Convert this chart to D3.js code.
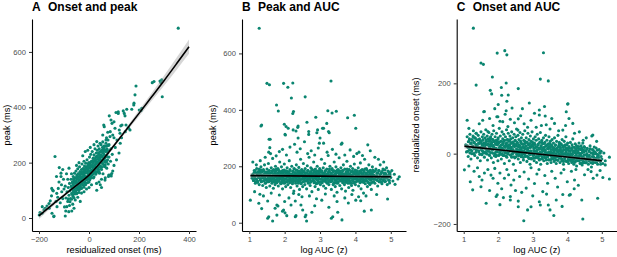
<!DOCTYPE html>
<html>
<head>
<meta charset="utf-8">
<script src="https://cdn.jsdelivr.net/npm/d3@7"></script>
<style>
  body { margin: 0; background: #fff; }
  svg { display: block; font-family: "Liberation Sans", Arial, sans-serif; }
</style>
</head>
<body>
<svg id="chart" width="617" height="257"></svg>
<script>
// ---- panel A: residualized onset (ms) vs peak (ms)
const onsetPeak = [
  [357,686],[188,477],[184,445],[293,438],[253,489],[260,493],[284,495],[291,499],[287,490],
  [180,415],[171,393],[201,390],[211,396],[208,388],[151,393],[141,378],[137,387],[108,381],
  [117,378],[117,384],[81,369],[144,369],[88,354],[100,348],[61,330],[127,333],[148,336],
  [179,408],[59,336],[92,342],[121,318],[132,336],[85,312],[112,282],[145,312],[159,324],[76,282],
  [104,324],[157,326],[164,318],[124,306],[84,294],[68,282],[44,270],[31,276],[95,300],
  [75,310],[55,300],[130,290],[100,290],[60,260],[80,265],[125,270],[105,255],[120,235],[110,210],
  [79,155],[89,152],[65,192],[31,100],[45,120],[64,137],[50,110],[100,190],[95,170],
  [-92,72],[-88,95],[-85,60],[-83,110],[-80,82],[-78,125],[-76,98],[-74,70],[-72,140],[-71,115],
  [-69,88],[-67,104],[-66,130],[-64,78],[-63,150],[-62,96],[-61,118],[-60,136],
  [-59,105],[-58,162],[-57,88],[-56,128],[-55,145],[-54,112],[-53,98],[-52,170],[-51,135],[-50,120],
  [-49,155],[-48,90],[-47,142],[-46,108],[-45,178],[-44,126],[-43,160],[-42,115],[-41,138],[-40,100],
  [-39,150],[-38,185],[-37,128],[-36,168],[-35,118],[-34,145],[-33,135],[-32,158],[-31,110],[-30,175],
  [-29,140],[-28,195],[-28,125],[-27,160],[-26,150],[-25,132],[-24,178],[-23,118],[-22,168],[-21,145],
  [-20,205],[-20,155],[-19,130],[-18,188],[-17,162],[-16,140],[-15,172],[-14,120],[-13,198],[-12,150],
  [-11,182],[-10,138],[-9,165],[-8,210],[-7,148],[-6,175],[-5,128],[-4,190],[-3,158],[-2,170],[-1,145],[0,200],
  [1,160],[2,220],[2,180],[3,138],[4,195],[5,168],[6,150],[7,230],[8,185],[9,172],[10,205],[11,155],
  [12,190],[13,240],[14,175],[15,162],[16,215],[17,198],[18,145],[19,182],[20,228],[21,168],[22,205],
  [23,190],[24,250],[25,175],[26,212],[27,158],[28,195],[29,235],[30,182],
  [31,220],[32,168],[33,245],[34,200],[35,185],[36,260],[37,212],[38,175],[39,230],[40,195],[41,250],
  [42,162],[43,218],[44,205],[45,240],[46,188],[47,228],[48,265],[49,210],[50,175],[51,245],[52,222],
  [53,198],[54,255],[55,235],[56,160],[57,212],[58,248],[59,190],[60,230],
  [62,215],[63,260],[64,185],[66,240],[67,205],[68,270],[70,225],[71,180],[72,250],[74,210],[75,235],
  [77,195],[78,262],[80,220],[82,245],[84,155],[86,205],[88,250],[91,161],[93,230],
  [-199,11],[-196,20],[-188,17],[-187,41],[-180,30],[-175,35],[-168,43],[-160,52],[-159,35],[-155,62],
  [-150,80],[-148,17],[-145,100],[-143,98],[-141,5],[-140,7],[-136,222],[-132,60],[-129,89],[-128,41],
  [-125,75],[-123,107],[-120,130],[-119,182],[-115,55],[-112,162],[-110,120],[-109,95],[-105,70],
  [-102,140],[-100,105],[-98,40],[-95,7],[-93,25],[-89,41],[-85,140],[-83,69],[-81,23],[-78,45],
  [-76,59],[-70,160],[-69,25],[-65,50],[-60,35],[-55,65],[-50,190],[-45,75],[-40,200],[-35,60],
  [-30,90],[-25,225],[-20,95],[-15,240],[-10,105],[-5,245],[0,110],[5,255],[10,120],[20,265],
  [30,125],[40,130],[50,140],[55,275],[65,145],[70,290],[78,150],[-149,107],[-112,150],[-95,115],
  [-90,160],[-130,150],[-105,175],[-80,180]
];
// densest part of the cloud in panel A
const onsetPeakCore = [
  [-70,68],[-68,88],[-69,108],[-67,128],[-65,83],[-63,103],[-64,123],[-62,141],
  [-60,73],[-58,93],[-59,113],[-57,133],[-55,88],[-53,108],[-54,128],[-52,145],
  [-50,88],[-48,108],[-49,128],[-47,148],[-45,102],[-43,122],[-44,142],[-42,160],
  [-40,92],[-38,112],[-39,132],[-37,152],[-35,107],[-33,127],[-34,147],[-32,164],
  [-30,107],[-28,127],[-29,147],[-27,167],[-25,121],[-23,141],[-24,161],[-22,179],
  [-20,111],[-18,131],[-19,151],[-17,171],[-15,126],[-13,146],[-14,166],[-12,183],
  [-10,126],[-8,146],[-9,166],[-7,186],[-5,140],[-3,160],[-4,180],[-2,198],
  [0,130],[2,150],[1,170],[3,190],[5,145],[7,165],[6,185],[8,202],
  [10,145],[12,165],[11,185],[13,205],[15,159],[17,179],[16,199],[18,217],
  [20,149],[22,169],[21,189],[23,209],[25,164],[27,184],[26,204],[28,221],
  [30,164],[32,184],[31,204],[33,224],[35,178],[37,198],[36,218],[38,236],
  [40,168],[42,188],[41,208],[43,228],[45,183],[47,203],[46,223],[48,240],
  [50,183],[52,203],[51,223],[53,243],[55,197],[57,217],[56,237],[58,255],
  [60,187],[62,207],[61,227],[63,247],[65,202],[67,222],[66,242],[68,259],
  [70,202],[72,222],[71,242],[73,262]
];
const aFitX = [-200,-150,-100,-50,0,50,100,150,200,250,300,350,400];
const aFitY = [8,46,82,118,155,205,262,320,378,437,496,557,619];
const aFitCI = [12,8,6,5,4,5,6,8,11,14,18,22,26];
const aXTicks = [-200,0,200,400];
const aYTicks = [0,200,400,600];

// ---- panel B: log AUC (z) vs peak (ms)
const aucPeak = [
  [1.28,689],[1.50,494],[1.57,489],[1.97,494],[2.23,495],[2.09,480],[3.31,502],[2.19,442],[2.58,446],
  [1.77,417],[1.82,396],[2.25,394],[2.23,387],[3.22,397],[3.34,389],[3.46,395],[1.35,346],[1.99,349],
  [2.10,335],[2.37,338],[2.88,374],[2.63,356],[3.19,352],[3.07,335],[3.78,372],[3.97,381],[4.01,335],
  [1.33,343],[2.04,341],[2.24,329],[2.32,325],[2.01,313],[2.68,323],[2.93,329],[3.10,335],[3.24,323],
  [1.56,296],[2.98,282],[3.62,282],[2.38,343],[2.91,319],[3.26,319],[2.68,313],[2.02,311],
  [1.58,266],[1.55,250],[2.28,278],[2.56,287],[3.10,282],[3.60,278],[4.35,276],[1.76,237],[1.94,260],
  [1.03,80],[1.27,69],[1.30,101],[1.52,77],[1.52,16],[1.66,6],[1.78,27],[1.78,63],[1.94,41],[2.01,35],
  [2.06,25],[2.18,63],[2.30,77],[2.32,25],[2.46,63],[2.51,45],[2.60,27],[2.62,6],[2.77,37],[3.36,21],
  [3.50,37],[3.62,10],[4.01,80],[4.25,41],[4.91,84],[5.24,163],[5.12,136],[5.20,155],
  [1.55,21],[1.73,51],[1.81,59],[1.97,45],[2.30,21],[2.58,21],[3.32,16],[4.45,45],[4.09,92],[2.49,92],
  [3.05,80],[3.48,75],[2.25,104],[1.40,95],[1.62,105],[1.85,98],[2.12,88],[2.40,100],[2.70,95],
  [2.90,85],[3.15,102],[3.40,95],[3.70,88],[3.90,100],[4.30,95],[4.60,100],[1.15,110],[2.85,60],
  [3.25,55],[3.80,70],[4.15,78],[2.00,75],[1.35,50],
  [1.10,215],[1.20,205],[1.31,220],[1.45,232],[1.60,245],[1.66,228],[1.85,252],[2.05,240],[2.15,268],
  [2.35,250],[2.44,262],[2.65,245],[2.75,255],[2.85,240],[2.95,265],[3.20,250],[3.35,260],[3.45,243],
  [3.70,240],[3.85,258],[3.95,235],[4.10,250],[4.20,238],[4.42,255],[4.55,232],[4.65,225],[4.80,215],
  [2.38,300],[3.00,300],[1.59,296],
  [1.08,158],[1.10,172],[1.12,150],[1.14,185],[1.15,163],[1.17,140],[1.18,178],[1.20,155],[1.21,192],
  [1.22,168],[1.24,147],[1.25,175],[1.27,160],[1.28,135],[1.29,182],
  [1.31,152],[1.32,170],[1.33,198],[1.34,145],[1.36,165],[1.37,180],[1.38,132],[1.39,158],[1.40,188],
  [1.41,148],[1.42,172],[1.43,205],[1.44,162],[1.45,140],[1.46,178],[1.47,155],[1.48,125],[1.49,168],
  [1.50,190],[1.51,150],[1.52,175],[1.53,160],[1.54,210],
  [1.55,145],[1.56,168],[1.57,185],[1.58,130],[1.59,158],[1.60,176],[1.61,150],[1.62,195],[1.63,164],
  [1.64,140],[1.65,182],[1.66,155],[1.67,170],[1.68,122],[1.69,188],[1.70,160],[1.71,147],[1.72,178],
  [1.73,135],[1.74,200],[1.75,166],[1.76,152],[1.77,185],[1.78,142],[1.79,172],
  [1.80,158],[1.81,192],[1.82,130],[1.83,168],[1.84,148],[1.85,180],[1.86,215],[1.87,155],[1.88,172],
  [1.89,138],[1.90,163],[1.91,198],[1.92,145],[1.93,176],[1.94,120],[1.95,160],[1.96,186],[1.97,150],
  [1.98,170],[1.99,208],[2.00,140],[2.01,165],[2.02,182],[2.03,128],[2.04,155],
  [2.05,175],[2.06,145],[2.07,195],[2.08,162],[2.09,135],[2.10,180],[2.11,152],[2.12,168],[2.13,220],
  [2.14,142],[2.15,188],[2.16,158],[2.17,125],[2.18,172],[2.19,150],[2.20,200],[2.21,165],[2.22,138],
  [2.23,182],[2.24,155],[2.25,170],[2.26,112],[2.27,192],[2.28,148],[2.29,163],
  [2.30,178],[2.31,140],[2.32,158],[2.33,205],[2.34,168],[2.35,130],[2.36,185],[2.37,152],[2.38,172],
  [2.39,145],[2.40,196],[2.41,160],[2.42,118],[2.43,178],[2.44,150],[2.45,225],[2.46,166],[2.47,138],
  [2.48,188],[2.49,155],[2.50,172],[2.51,128],[2.52,162],[2.53,210],[2.54,146],
  [2.55,180],[2.56,158],[2.57,135],[2.58,192],[2.59,168],[2.60,148],[2.61,176],[2.62,120],[2.63,162],
  [2.64,202],[2.65,153],[2.66,185],[2.67,140],[2.68,170],[2.69,232],[2.70,158],[2.71,178],[2.72,132],
  [2.73,165],[2.74,195],[2.75,148],[2.76,172],[2.77,110],[2.78,160],[2.79,186],
  [2.80,150],[2.81,170],[2.82,215],[2.83,142],[2.84,180],[2.85,162],[2.86,128],[2.87,190],[2.88,155],
  [2.89,174],[2.90,138],[2.91,166],[2.92,200],[2.93,150],[2.94,182],[2.95,118],[2.96,160],[2.97,175],
  [2.98,145],[2.99,192],[3.00,168],[3.01,135],[3.02,185],[3.03,155],[3.04,225],
  [3.05,165],[3.06,142],[3.07,178],[3.08,152],[3.09,195],[3.10,130],[3.11,170],[3.12,160],[3.13,210],
  [3.14,148],[3.15,183],[3.16,122],[3.17,165],[3.18,155],[3.19,190],[3.20,140],[3.21,174],[3.22,158],
  [3.23,238],[3.24,168],[3.25,135],[3.26,182],[3.27,150],[3.28,200],[3.29,162],
  [3.30,145],[3.31,176],[3.32,118],[3.33,160],[3.34,192],[3.35,152],[3.36,170],[3.37,135],[3.38,185],
  [3.39,158],[3.40,215],[3.41,142],[3.42,172],[3.43,128],[3.44,165],[3.45,198],[3.46,150],[3.47,180],
  [3.48,108],[3.49,162],[3.50,140],[3.51,188],[3.52,155],[3.53,175],[3.54,230],
  [3.55,160],[3.56,132],[3.57,180],[3.58,150],[3.59,195],[3.60,168],[3.61,120],[3.62,158],[3.63,185],
  [3.64,142],[3.65,172],[3.66,205],[3.67,152],[3.68,165],[3.69,135],[3.70,190],[3.71,160],[3.72,112],
  [3.73,176],[3.74,148],[3.75,168],[3.76,218],[3.77,155],[3.78,182],[3.79,140],
  [3.80,165],[3.81,125],[3.82,188],[3.83,152],[3.84,172],[3.85,140],[3.86,200],[3.87,160],[3.88,180],
  [3.89,132],[3.90,168],[3.91,150],[3.92,192],[3.93,115],[3.94,162],[3.95,178],[3.96,145],[3.97,208],
  [3.98,158],[3.99,172],[4.00,135],[4.01,185],[4.02,155],[4.03,165],[4.04,245],
  [4.05,148],[4.06,175],[4.07,160],[4.08,195],[4.09,130],[4.10,168],[4.11,152],[4.12,182],[4.13,142],
  [4.14,212],[4.15,163],[4.16,120],[4.17,178],[4.18,155],[4.19,188],[4.20,145],[4.21,170],[4.22,160],
  [4.23,105],[4.24,185],[4.25,150],[4.26,225],[4.27,166],[4.28,138],[4.29,176],
  [4.30,158],[4.31,192],[4.32,148],[4.33,170],[4.34,128],[4.35,163],[4.36,180],[4.37,142],[4.38,205],
  [4.39,156],[4.40,172],[4.41,135],[4.42,186],[4.43,152],[4.44,166],[4.45,118],[4.46,178],[4.47,160],
  [4.48,198],[4.49,145],[4.50,170],[4.52,155],[4.54,182],
  [4.55,140],[4.57,165],[4.58,190],[4.60,152],[4.61,175],[4.63,130],[4.64,160],[4.66,185],[4.67,145],
  [4.69,170],[4.70,205],[4.72,155],[4.73,178],[4.75,138],[4.76,162],[4.78,150],[4.79,188],
  [4.81,168],[4.83,145],[4.85,175],[4.87,158],[4.88,195],[4.90,135],[4.92,165],[4.94,180],[4.96,150],
  [4.98,170],[5.00,160],[5.03,185],[5.06,148],[5.10,172]
];
// densest part of the band in panel B
const aucPeakCore = [
  [1.105,165],[1.12,150],[1.135,177],[1.15,159],[1.165,185],[1.18,145],
  [1.205,153],[1.22,173],[1.235,143],[1.25,181],[1.265,161],[1.28,190],
  [1.305,175],[1.32,157],[1.335,187],[1.35,147],[1.365,169],[1.38,163],
  [1.405,160],[1.42,183],[1.435,151],[1.45,172],[1.465,141],[1.48,178],
  [1.505,179],[1.517,145],[1.529,167],[1.541,154],[1.553,184],[1.565,162],[1.577,174],[1.589,148],
  [1.605,165],[1.617,150],[1.629,177],[1.641,159],[1.653,185],[1.665,145],[1.677,171],[1.689,155],
  [1.705,153],[1.717,173],[1.729,143],[1.741,181],[1.753,161],[1.765,190],[1.777,149],[1.789,168],
  [1.805,175],[1.817,157],[1.829,187],[1.841,147],[1.853,169],[1.865,163],[1.877,180],[1.889,140],
  [1.905,160],[1.917,183],[1.929,151],[1.941,172],[1.953,141],[1.965,178],[1.977,156],[1.989,187],
  [2.005,179],[2.017,145],[2.029,167],[2.041,154],[2.053,184],[2.065,162],[2.077,174],[2.089,148],
  [2.105,165],[2.117,150],[2.129,177],[2.141,159],[2.153,185],[2.165,145],[2.177,171],[2.189,155],
  [2.205,153],[2.217,173],[2.229,143],[2.241,181],[2.253,161],[2.265,190],[2.277,149],[2.289,168],
  [2.305,175],[2.317,157],[2.329,187],[2.341,147],[2.353,169],[2.365,163],[2.377,180],[2.389,140],
  [2.405,160],[2.417,183],[2.429,151],[2.441,172],[2.453,141],[2.465,178],[2.477,156],[2.489,187],
  [2.505,179],[2.517,145],[2.529,167],[2.541,154],[2.553,184],[2.565,162],[2.577,174],[2.589,148],
  [2.605,165],[2.617,150],[2.629,177],[2.641,159],[2.653,185],[2.665,145],[2.677,171],[2.689,155],
  [2.705,153],[2.717,173],[2.729,143],[2.741,181],[2.753,161],[2.765,190],[2.777,149],[2.789,168],
  [2.805,175],[2.817,157],[2.829,187],[2.841,147],[2.853,169],[2.865,163],[2.877,180],[2.889,140],
  [2.905,160],[2.917,183],[2.929,151],[2.941,172],[2.953,141],[2.965,178],[2.977,156],[2.989,187],
  [3.005,179],[3.017,145],[3.029,167],[3.041,154],[3.053,184],[3.065,162],[3.077,174],[3.089,148],
  [3.105,165],[3.117,150],[3.129,177],[3.141,159],[3.153,185],[3.165,145],[3.177,171],[3.189,155],
  [3.205,153],[3.217,173],[3.229,143],[3.241,181],[3.253,161],[3.265,190],[3.277,149],[3.289,168],
  [3.305,175],[3.317,157],[3.329,187],[3.341,147],[3.353,169],[3.365,163],[3.377,180],[3.389,140],
  [3.405,160],[3.417,183],[3.429,151],[3.441,172],[3.453,141],[3.465,178],[3.477,156],[3.489,187],
  [3.505,179],[3.517,145],[3.529,167],[3.541,154],[3.553,184],[3.565,162],[3.577,174],[3.589,148],
  [3.605,165],[3.617,150],[3.629,177],[3.641,159],[3.653,185],[3.665,145],[3.677,171],[3.689,155],
  [3.705,153],[3.717,173],[3.729,143],[3.741,181],[3.753,161],[3.765,190],[3.777,149],[3.789,168],
  [3.805,175],[3.817,157],[3.829,187],[3.841,147],[3.853,169],[3.865,163],[3.877,180],[3.889,140],
  [3.905,160],[3.917,183],[3.929,151],[3.941,172],[3.953,141],[3.965,178],[3.977,156],[3.989,187],
  [4.005,179],[4.017,145],[4.029,167],[4.041,154],[4.053,184],[4.065,162],[4.077,174],[4.089,148],
  [4.105,165],[4.117,150],[4.129,177],[4.141,159],[4.153,185],[4.165,145],[4.177,171],[4.189,155],
  [4.205,153],[4.217,173],[4.229,143],[4.241,181],[4.253,161],[4.265,190],[4.277,149],[4.289,168],
  [4.305,175],[4.317,157],[4.329,187],[4.341,147],[4.353,169],[4.365,163],[4.377,180],[4.389,140],
  [4.405,160],[4.417,183],[4.429,151],[4.441,172],[4.453,141],[4.465,178],[4.477,156],[4.489,187],
  [4.505,179],[4.52,145],[4.535,167],[4.55,154],[4.565,184],[4.58,162],
  [4.605,165],[4.62,150],[4.635,177],[4.65,159],[4.665,185],[4.68,145],
  [4.705,153],[4.72,173],[4.735,143],[4.75,181],[4.765,161],[4.78,190],
  [4.805,175],[4.82,157],[4.835,187],[4.85,147],[4.865,169],[4.88,163],
  [4.905,160],[4.92,183],[4.935,151],[4.95,172],[4.965,141],[4.98,178]
];
const bFitX = [1.03,2,3,4,5];
const bFitY = [167,166,165,164,163];
const bFitCI = [9,4,3,4,7];
const bXTicks = [1,2,3,4,5];
const bYTicks = [0,200,400,600];

// ---- panel C: log AUC (z) vs residualized onset (ms)
const aucOnset = [
  [1.28,357],[1.97,286],[2.19,293],[2.25,281],[3.31,287],[1.50,258],[1.57,254],[1.83,218],[1.36,195],
  [2.23,201],[2.09,188],[2.58,185],[3.22,212],[3.45,207],[1.77,180],[1.81,170],[2.10,166],[2.29,167],
  [2.25,149],[2.90,144],[4.02,142],[3.19,124],[3.34,134],[4.01,141],[3.97,119],[1.58,119],[1.99,105],
  [2.23,122],[2.58,99],[3.36,107],[3.63,86],[4.16,86],[4.71,50],[1.60,120],
  [1.15,72],[1.28,65],[1.36,58],[1.45,85],[1.55,95],[1.70,63],[1.75,100],[1.85,80],[1.96,105],[2.05,92],
  [2.13,91],[2.20,112],[2.28,77],[2.35,98],[2.47,88],[2.57,67],[2.65,108],[2.75,85],[2.85,75],[2.95,95],
  [3.05,115],[3.19,110],[3.25,80],[3.39,82],[3.50,70],[3.75,65],[3.87,67],[3.95,80],[4.21,58],
  [4.35,62],[4.45,30],[4.55,45],[4.74,53],[4.85,35],[1.10,95],[2.40,130],[2.70,128],[3.10,75],[3.55,100],
  [2.00,140],[1.90,128],[4.05,100],
  [1.02,-46],[1.19,-80],[1.26,-103],[1.65,-141],[1.97,-117],[2.35,-122],[2.58,-135],[2.58,-151],
  [2.74,-191],[3.19,-137],[3.22,-146],[3.45,-146],[3.61,-176],[3.87,-116],[4.09,-116],[4.45,-186],
  [4.42,-132],[4.88,-127],[4.86,-61],[5.03,-68],[5.22,-72],[5.10,-32],[5.22,-10],[1.50,-94],[1.53,-75],
  [1.79,-61],[1.99,-84],[2.37,-89],[2.81,-98],[3.29,-108],[3.43,-84],[4.21,-75],[4.69,-51],[2.95,-151],
  [2.35,-132],[3.68,-132],[4.06,-118],[1.94,-122],
  [1.15,-35],[1.30,-50],[1.40,-40],[1.60,-55],[1.70,-45],[1.85,-70],[1.90,-42],[2.05,-55],[2.10,-100],
  [2.18,-70],[2.25,-45],[2.30,-60],[2.45,-75],[2.50,-48],[2.62,-65],[2.68,-110],[2.75,-52],[2.88,-72],
  [2.95,-40],[3.05,-85],[3.12,-58],[3.18,-45],[3.35,-62],[3.40,-115],[3.55,-50],[3.65,-70],[3.72,-95],
  [3.82,-55],[3.90,-45],[4.00,-80],[4.12,-50],[4.25,-45],[4.32,-90],[4.50,-60],[4.60,-45],[4.75,-70],
  [4.95,-48],[2.15,-125],[2.50,-105],[3.00,-120],[3.85,-150],[1.45,-65],[2.85,-160],[2.05,-145],
  [3.50,-160],[1.75,-105],[4.20,-100],
  [1.06,25],[1.08,5],[1.10,48],[1.12,18],[1.13,-8],[1.15,35],[1.17,12],[1.18,55],[1.20,28],[1.21,-15],
  [1.23,40],[1.24,8],[1.26,22],[1.27,50],[1.29,0],
  [1.30,32],[1.31,15],[1.32,-5],[1.33,45],[1.35,25],[1.36,58],[1.37,10],[1.38,38],[1.40,-12],[1.41,20],
  [1.42,52],[1.43,30],[1.44,5],[1.46,42],[1.47,18],[1.48,-20],[1.49,35],[1.50,62],[1.51,12],[1.52,28],
  [1.53,-3],[1.54,48],
  [1.55,22],[1.56,40],[1.57,5],[1.58,55],[1.59,30],[1.60,-10],[1.61,18],[1.62,45],[1.63,25],[1.64,68],
  [1.65,2],[1.66,35],[1.67,12],[1.68,50],[1.69,-18],[1.70,28],[1.71,42],[1.72,8],[1.73,60],[1.74,20],
  [1.75,-5],[1.76,38],[1.77,15],[1.78,48],[1.79,26],
  [1.80,-12],[1.81,32],[1.82,55],[1.83,10],[1.84,40],[1.85,22],[1.86,-25],[1.87,65],[1.88,18],[1.89,35],
  [1.90,0],[1.91,48],[1.92,28],[1.93,-8],[1.94,15],[1.95,58],[1.96,38],[1.97,5],[1.98,25],[1.99,-20],
  [2.00,45],[2.01,12],[2.02,32],[2.03,72],[2.04,-2],
  [2.05,20],[2.06,50],[2.07,8],[2.08,35],[2.09,-15],[2.10,25],[2.11,62],[2.12,15],[2.13,42],[2.14,-5],
  [2.15,30],[2.16,55],[2.17,10],[2.18,-28],[2.19,38],[2.20,18],[2.21,48],[2.22,2],[2.23,28],[2.24,68],
  [2.25,-10],[2.26,22],[2.27,40],[2.28,5],[2.29,58],
  [2.30,15],[2.31,35],[2.32,-20],[2.33,25],[2.34,50],[2.35,8],[2.36,42],[2.37,-5],[2.38,18],[2.39,62],
  [2.40,30],[2.41,0],[2.42,45],[2.43,12],[2.44,-30],[2.45,28],[2.46,55],[2.47,20],[2.48,-12],[2.49,38],
  [2.50,5],[2.51,48],[2.52,22],[2.53,70],[2.54,-2],
  [2.55,32],[2.56,10],[2.57,52],[2.58,-15],[2.59,25],[2.60,40],[2.61,2],[2.62,18],[2.63,60],[2.64,-25],
  [2.65,35],[2.66,12],[2.67,45],[2.68,-5],[2.69,28],[2.70,8],[2.71,55],[2.72,20],[2.73,-18],[2.74,38],
  [2.75,0],[2.76,15],[2.77,65],[2.78,30],[2.79,-8],
  [2.80,22],[2.81,45],[2.82,5],[2.83,-22],[2.84,32],[2.85,12],[2.86,58],[2.87,-10],[2.88,25],[2.89,40],
  [2.90,0],[2.91,18],[2.92,-30],[2.93,50],[2.94,8],[2.95,35],[2.96,-15],[2.97,22],[2.98,62],[2.99,2],
  [3.00,28],[3.01,-5],[3.02,42],[3.03,15],[3.04,-20],
  [3.05,30],[3.06,5],[3.07,48],[3.08,-12],[3.09,20],[3.10,38],[3.11,-25],[3.12,10],[3.13,55],[3.14,0],
  [3.15,25],[3.16,-8],[3.17,42],[3.18,15],[3.19,-18],[3.20,32],[3.21,5],[3.22,60],[3.23,-30],[3.24,20],
  [3.25,-2],[3.26,38],[3.27,12],[3.28,-15],[3.29,28],
  [3.30,8],[3.31,45],[3.32,-20],[3.33,18],[3.34,-5],[3.35,32],[3.36,10],[3.37,52],[3.38,-12],[3.39,22],
  [3.40,0],[3.41,38],[3.42,-28],[3.43,15],[3.44,-8],[3.45,28],[3.46,5],[3.47,48],[3.48,-18],[3.49,20],
  [3.50,-2],[3.51,35],[3.52,12],[3.53,-25],[3.54,25],
  [3.55,2],[3.56,40],[3.57,-15],[3.58,18],[3.59,-5],[3.60,30],[3.61,8],[3.62,-22],[3.63,45],[3.64,12],
  [3.65,-10],[3.66,25],[3.67,0],[3.68,-28],[3.69,35],[3.70,15],[3.71,-18],[3.72,5],[3.73,52],[3.74,-8],
  [3.75,22],[3.76,-2],[3.77,32],[3.78,10],[3.79,-25],
  [3.80,18],[3.81,-12],[3.82,28],[3.83,2],[3.84,-20],[3.85,40],[3.86,8],[3.87,-5],[3.88,22],[3.89,-30],
  [3.90,12],[3.91,35],[3.92,-15],[3.93,0],[3.94,25],[3.95,-8],[3.96,48],[3.97,5],[3.98,-22],[3.99,15],
  [4.00,-2],[4.01,30],[4.02,-15],[4.03,10],[4.04,-28],
  [4.05,20],[4.06,-5],[4.07,8],[4.08,-18],[4.09,32],[4.10,0],[4.11,-12],[4.12,15],[4.13,-25],[4.14,25],
  [4.15,-2],[4.16,42],[4.17,-15],[4.18,8],[4.19,-30],[4.20,18],[4.21,-8],[4.22,2],[4.23,28],[4.24,-20],
  [4.25,10],[4.26,-5],[4.27,-35],[4.28,20],[4.29,-12],
  [4.30,5],[4.31,-20],[4.32,15],[4.33,-8],[4.34,30],[4.35,-15],[4.36,0],[4.37,-28],[4.38,12],[4.39,-5],
  [4.40,22],[4.41,-18],[4.42,2],[4.43,-32],[4.44,10],[4.45,-10],[4.46,38],[4.47,-22],[4.48,5],[4.49,-3],
  [4.50,18],[4.52,-15],[4.54,8],
  [4.55,-25],[4.57,0],[4.58,15],[4.60,-12],[4.61,-30],[4.63,8],[4.64,-5],[4.66,22],[4.67,-18],[4.69,2],
  [4.70,-38],[4.72,-8],[4.73,12],[4.75,-22],[4.76,-2],[4.78,5],[4.79,-15],
  [4.81,-25],[4.83,0],[4.85,-12],[4.87,10],[4.88,-30],[4.90,-5],[4.92,-18],[4.94,3],[4.96,-22],
  [4.98,-8],[5.00,-15],[5.03,-28],[5.06,2],[5.10,-20]
];
// densest part of the band in panel C
const aucOnsetCore = [
  [1.105,22],[1.12,7],[1.135,34],[1.15,16],[1.165,42],[1.18,2],
  [1.205,10],[1.22,30],[1.235,0],[1.25,38],[1.265,18],[1.28,47],
  [1.305,32],[1.32,14],[1.335,44],[1.35,4],[1.365,26],[1.38,20],
  [1.405,17],[1.42,40],[1.435,8],[1.45,29],[1.465,-2],[1.48,35],
  [1.505,33],[1.517,-1],[1.529,21],[1.541,8],[1.553,38],[1.565,16],[1.577,28],[1.589,2],
  [1.605,19],[1.617,4],[1.629,31],[1.641,13],[1.653,39],[1.665,-1],[1.677,25],[1.689,9],
  [1.705,7],[1.717,27],[1.729,-3],[1.741,35],[1.753,15],[1.765,44],[1.777,3],[1.789,22],
  [1.805,29],[1.817,11],[1.829,41],[1.841,1],[1.853,23],[1.865,17],[1.877,34],[1.889,-6],
  [1.905,14],[1.917,37],[1.929,5],[1.941,26],[1.953,-5],[1.965,32],[1.977,10],[1.989,41],
  [2.005,29],[2.017,-5],[2.029,17],[2.041,4],[2.053,34],[2.065,12],[2.077,24],[2.089,-2],
  [2.105,15],[2.117,0],[2.129,27],[2.141,9],[2.153,35],[2.165,-5],[2.177,21],[2.189,5],
  [2.205,3],[2.217,23],[2.229,-7],[2.241,31],[2.253,11],[2.265,40],[2.277,-1],[2.289,18],
  [2.305,25],[2.317,7],[2.329,37],[2.341,-3],[2.353,19],[2.365,13],[2.377,30],[2.389,-10],
  [2.405,10],[2.417,33],[2.429,1],[2.441,22],[2.453,-9],[2.465,28],[2.477,6],[2.489,37],
  [2.505,25],[2.517,-9],[2.529,13],[2.541,0],[2.553,30],[2.565,8],[2.577,20],[2.589,-6],
  [2.605,11],[2.617,-4],[2.629,23],[2.641,5],[2.653,31],[2.665,-9],[2.677,17],[2.689,1],
  [2.705,-1],[2.717,19],[2.729,-11],[2.741,27],[2.753,7],[2.765,36],[2.777,-5],[2.789,14],
  [2.805,21],[2.817,3],[2.829,33],[2.841,-7],[2.853,15],[2.865,9],[2.877,26],[2.889,-14],
  [2.905,6],[2.917,29],[2.929,-3],[2.941,18],[2.953,-13],[2.965,24],[2.977,2],[2.989,33],
  [3.005,21],[3.017,-13],[3.029,9],[3.041,-4],[3.053,26],[3.065,4],[3.077,16],[3.089,-10],
  [3.105,7],[3.117,-8],[3.129,19],[3.141,1],[3.153,27],[3.165,-13],[3.177,13],[3.189,-3],
  [3.205,-5],[3.217,15],[3.229,-15],[3.241,23],[3.253,3],[3.265,32],[3.277,-9],[3.289,10],
  [3.305,17],[3.317,-1],[3.329,29],[3.341,-11],[3.353,11],[3.365,5],[3.377,22],[3.389,-18],
  [3.405,2],[3.417,25],[3.429,-7],[3.441,14],[3.453,-17],[3.465,20],[3.477,-2],[3.489,29],
  [3.505,17],[3.517,-17],[3.529,5],[3.541,-8],[3.553,22],[3.565,0],[3.577,12],[3.589,-14],
  [3.605,3],[3.617,-12],[3.629,15],[3.641,-3],[3.653,23],[3.665,-17],[3.677,9],[3.689,-7],
  [3.705,-9],[3.717,11],[3.729,-19],[3.741,19],[3.753,-1],[3.765,28],[3.777,-13],[3.789,6],
  [3.805,13],[3.817,-5],[3.829,25],[3.841,-15],[3.853,7],[3.865,1],[3.877,18],[3.889,-22],
  [3.905,-2],[3.917,21],[3.929,-11],[3.941,10],[3.953,-21],[3.965,16],[3.977,-6],[3.989,25],
  [4.005,12],[4.017,-22],[4.029,0],[4.041,-13],[4.053,17],[4.065,-5],[4.077,7],[4.089,-19],
  [4.105,-2],[4.117,-17],[4.129,10],[4.141,-8],[4.153,18],[4.165,-22],[4.177,4],[4.189,-12],
  [4.205,-14],[4.217,6],[4.229,-24],[4.241,14],[4.253,-6],[4.265,23],[4.277,-18],[4.289,1],
  [4.305,8],[4.317,-10],[4.329,20],[4.341,-20],[4.353,2],[4.365,-4],[4.377,13],[4.389,-27],
  [4.405,-7],[4.417,16],[4.429,-16],[4.441,5],[4.453,-26],[4.465,11],[4.477,-11],[4.489,20],
  [4.505,8],[4.52,-26],[4.535,-4],[4.55,-17],[4.565,13],[4.58,-9],
  [4.605,-6],[4.62,-21],[4.635,6],[4.65,-12],[4.665,14],[4.68,-26],
  [4.705,-18],[4.72,2],[4.735,-28],[4.75,10],[4.765,-10],[4.78,19],
  [4.805,4],[4.82,-14],[4.835,16],[4.85,-24],[4.865,-2],[4.88,-8],
  [4.905,-11],[4.92,12],[4.935,-20],[4.95,1],[4.965,-30],[4.98,7]
];
const cFitX = [1.02,2,3,4,5];
const cFitY = [21,11,0.5,-9.5,-20];
const cFitCI = [7,3.5,2.5,3.5,6];
const cXTicks = [1,2,3,4,5];
const cYTicks = [-200,0,200];

const letters = ['A','B','C'];
const titles = ['Onset and peak','Peak and AUC','Onset and AUC'];
const xLabels = ['residualized onset (ms)','log AUC (z)','log AUC (z)'];
const yLabels = ['peak (ms)','peak (ms)','residualized onset (ms)'];

const pointColor = '#0a8570';
const plotTop = 19, plotBottom = 231;

const panels = [
  { pts: onsetPeak.concat(onsetPeakCore), left: 32, right: 196, xDom: [-228, 428], yDom: [-47, 719],
    xTicks: aXTicks, yTicks: aYTicks, yTitleX: 9.5, fitX: aFitX, fitY: aFitY, fitCI: aFitCI },
  { pts: aucPeak.concat(aucPeakCore), left: 242, right: 406, xDom: [0.794, 5.43], yDom: [-29.4, 722],
    xTicks: bXTicks, yTicks: bYTicks, yTitleX: 215.5, fitX: bFitX, fitY: bFitY, fitCI: bFitCI },
  { pts: aucOnset.concat(aucOnsetCore), left: 456.7, right: 617, xDom: [0.797, 5.44], yDom: [-220, 383],
    xTicks: cXTicks, yTicks: cYTicks, yTitleX: 418.5, fitX: cFitX, fitY: cFitY, fitCI: cFitCI }
];

const svg = d3.select('#chart');

panels.forEach((p, i) => {
  const x = d3.scaleLinear().domain(p.xDom).range([p.left, p.right]);
  const y = d3.scaleLinear().domain(p.yDom).range([plotBottom, plotTop]);
  const g = svg.append('g');

  // points
  g.append('g')
    .selectAll('circle')
    .data(p.pts)
    .enter()
    .append('circle')
    .attr('cx', d => x(d[0]))
    .attr('cy', d => y(d[1]))
    .attr('r', 1.55)
    .attr('fill', pointColor);

  // smooth: confidence band + fitted line
  const fit = p.fitX.map((v, j) => ({ x: v, y: p.fitY[j], ci: p.fitCI[j] }));

  g.append('path')
    .datum(fit)
    .attr('fill', '#999')
    .attr('fill-opacity', 0.4)
    .attr('d', d3.area()
      .curve(d3.curveMonotoneX)
      .x(d => x(d.x))
      .y0(d => y(d.y - d.ci))
      .y1(d => y(d.y + d.ci)));

  g.append('path')
    .datum(fit)
    .attr('fill', 'none')
    .attr('stroke', '#000')
    .attr('stroke-width', 1.6)
    .attr('d', d3.line()
      .curve(d3.curveMonotoneX)
      .x(d => x(d.x))
      .y(d => y(d.y)));

  // axes
  const fmt = d3.format('d');
  const xAxis = g.append('g')
    .attr('transform', `translate(0,${plotBottom})`)
    .call(d3.axisBottom(x).tickValues(p.xTicks).tickFormat(fmt)
      .tickSize(3).tickSizeOuter(0).tickPadding(3));

  const yAxis = g.append('g')
    .attr('transform', `translate(${p.left},0)`)
    .call(d3.axisLeft(y).tickValues(p.yTicks).tickFormat(fmt)
      .tickSize(3).tickSizeOuter(0).tickPadding(3));

  [xAxis, yAxis].forEach(a => {
    a.select('.domain').attr('stroke', '#000').attr('stroke-width', 1.1);
    a.selectAll('.tick line').attr('stroke', '#333');
    a.selectAll('.tick text')
      .attr('fill', '#4d4d4d')
      .style('font-size', '7.6px')
      .style('font-family', '"Liberation Sans", Arial, sans-serif');
  });

  // panel title
  g.append('text')
    .attr('x', p.left)
    .attr('y', 10.5)
    .style('font-size', '12px')
    .style('font-weight', 'bold')
    .text(letters[i]);

  g.append('text')
    .attr('x', p.left + 16)
    .attr('y', 10.5)
    .style('font-size', '12px')
    .style('font-weight', 'bold')
    .text(titles[i]);

  // axis titles
  g.append('text')
    .attr('x', (p.left + p.right) / 2)
    .attr('y', 253)
    .attr('text-anchor', 'middle')
    .style('font-size', '9.2px')
    .text(xLabels[i]);

  g.append('text')
    .attr('transform', `translate(${p.yTitleX},${(plotTop + plotBottom) / 2}) rotate(-90)`)
    .attr('text-anchor', 'middle')
    .style('font-size', '9.2px')
    .text(yLabels[i]);
});
</script>
</body>
</html>
